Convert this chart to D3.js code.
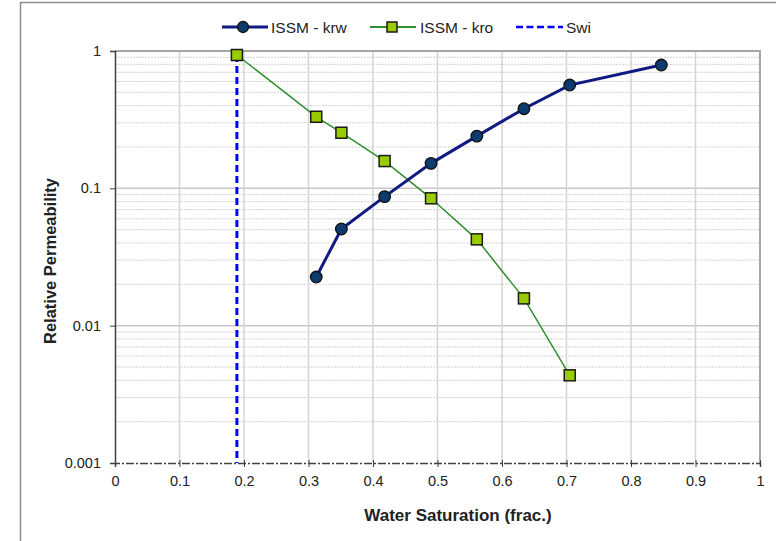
<!DOCTYPE html>
<html>
<head>
<meta charset="utf-8">
<script src="https://cdn.jsdelivr.net/npm/d3@7"></script>
<style>
  html, body { margin: 0; padding: 0; background: #fff; }
  svg { display: block; font-family: "Liberation Sans", Arial, sans-serif; }
</style>
</head>
<body>
<svg id="chart" width="776" height="541"></svg>
<script>
// Water saturation (fraction) for each measured point
const swKrw = [0.312, 0.351, 0.418, 0.490, 0.561, 0.634, 0.705, 0.847];
const krw   = [0.0226, 0.0506, 0.087, 0.152, 0.240, 0.380, 0.565, 0.790];

const swKro = [0.189, 0.312, 0.351, 0.418, 0.490, 0.561, 0.634, 0.705];
const kro   = [0.935, 0.332, 0.254, 0.158, 0.0846, 0.0425, 0.0158, 0.00435];

// Irreducible water saturation
const swi = 0.189;

const xTicks = [0, 0.1, 0.2, 0.3, 0.4, 0.5, 0.6, 0.7, 0.8, 0.9, 1];
const yTicks = [0.001, 0.01, 0.1, 1];
const yTickLabels = ["0.001", "0.01", "0.1", "1"];

const seriesNames = ["ISSM - krw", "ISSM - kro", "Swi"];

const svg = d3.select("#chart");
const plot = { left: 115, right: 760, top: 51, bottom: 463 };
const font = "Liberation Sans, Arial, sans-serif";

const x = d3.scaleLinear().domain([0, 1]).range([plot.left, plot.right]);
const y = d3.scaleLog().domain([0.001, 1]).range([plot.bottom, plot.top]);

// outer chart frame (extends past the right and bottom edges)
svg.append("rect")
  .attr("x", 20.5).attr("y", 2.5)
  .attr("width", 800).attr("height", 600)
  .attr("fill", "#fff")
  .attr("stroke", "#8c8c8c").attr("stroke-width", 1.5);

const g = svg.append("g");

// minor horizontal gridlines (2..9 within each decade)
const minor = [];
[0.001, 0.01, 0.1].forEach(d => { for (let k = 2; k <= 9; k++) minor.push(d * k); });
g.selectAll(".minor").data(minor).join("line")
  .attr("x1", plot.left).attr("x2", plot.right)
  .attr("y1", d => y(d)).attr("y2", d => y(d))
  .attr("stroke", "#d2d2d2").attr("stroke-width", 1)
  .attr("stroke-dasharray", "2,1");

// major horizontal gridlines
g.selectAll(".hmajor").data([0.01, 0.1]).join("line")
  .attr("x1", plot.left).attr("x2", plot.right)
  .attr("y1", d => y(d)).attr("y2", d => y(d))
  .attr("stroke", "#c8c8c8").attr("stroke-width", 1.5);

// vertical gridlines
g.selectAll(".vmajor").data(xTicks.slice(1, -1)).join("line")
  .attr("x1", d => x(d)).attr("x2", d => x(d))
  .attr("y1", plot.top).attr("y2", plot.bottom)
  .attr("stroke", "#d4d4d4").attr("stroke-width", 1.5);

// plot area border (top and right)
g.append("path")
  .attr("d", `M${plot.left},${plot.top}H${plot.right}V${plot.bottom}`)
  .attr("fill", "none").attr("stroke", "#a6a6a6").attr("stroke-width", 2);

// y axis
const yAxis = d3.axisLeft(y).tickValues(yTicks)
  .tickFormat((d, i) => yTickLabels[i]).tickSize(5).tickPadding(9);
const ya = g.append("g").attr("transform", `translate(${plot.left},0)`).call(yAxis);
ya.select(".domain").attr("stroke", "#404040").attr("stroke-width", 1.5);
ya.selectAll(".tick line").attr("stroke", "#404040");
ya.selectAll(".tick text").attr("font-size", 14.5).attr("fill", "#222")
  .attr("font-family", font);

// x axis
const xAxis = d3.axisBottom(x).tickValues(xTicks)
  .tickFormat(d3.format("")).tickSize(4).tickPadding(9);
const xa = g.append("g").attr("transform", `translate(0,${plot.bottom})`).call(xAxis);
xa.select(".domain").attr("stroke", "#404040").attr("stroke-width", 1.5)
  .attr("stroke-dasharray", "8,2,2,2");
xa.selectAll(".tick line").attr("stroke", "#404040").attr("y1", -3);
xa.selectAll(".tick text").attr("font-size", 14.5).attr("fill", "#222")
  .attr("font-family", font);

// axis titles
svg.append("text")
  .attr("x", 458).attr("y", 521)
  .attr("text-anchor", "middle").attr("font-family", font)
  .attr("font-size", 17).attr("font-weight", "bold").attr("fill", "#222")
  .text("Water Saturation (frac.)");
svg.append("text")
  .attr("transform", "translate(56,261) rotate(-90)")
  .attr("text-anchor", "middle").attr("font-family", font)
  .attr("font-size", 16.5).attr("font-weight", "bold").attr("fill", "#222")
  .text("Relative Permeability");

// Swi vertical dashed line
g.append("line")
  .attr("x1", x(swi)).attr("x2", x(swi))
  .attr("y1", y(kro[0])).attr("y2", plot.bottom)
  .attr("stroke", "#0000ff").attr("stroke-width", 3)
  .attr("stroke-dasharray", "7,4");

const line = d3.line().x(d => x(d[0])).y(d => y(d[1]));
const krwPts = swKrw.map((s, i) => [s, krw[i]]);
const kroPts = swKro.map((s, i) => [s, kro[i]]);

// kro series
g.append("path").datum(kroPts).attr("d", line)
  .attr("fill", "none").attr("stroke", "#2f8f2f").attr("stroke-width", 1.5);
g.selectAll(".kro").data(kroPts).join("rect")
  .attr("x", d => x(d[0]) - 5.5).attr("y", d => y(d[1]) - 5.5)
  .attr("width", 11).attr("height", 11)
  .attr("fill", "#99cc00").attr("stroke", "#1a1a1a").attr("stroke-width", 1.5);

// krw series
g.append("path").datum(krwPts).attr("d", line)
  .attr("fill", "none").attr("stroke", "#101a80").attr("stroke-width", 3);
g.selectAll(".krw").data(krwPts).join("circle")
  .attr("cx", d => x(d[0])).attr("cy", d => y(d[1])).attr("r", 5.8)
  .attr("fill", "#0d3b6e").attr("stroke", "#111").attr("stroke-width", 1.3);

// legend
const ly = 27;
const leg = svg.append("g").attr("font-size", 15.5).attr("font-family", font).attr("fill", "#222");
leg.append("line").attr("x1", 222).attr("x2", 268).attr("y1", ly).attr("y2", ly)
  .attr("stroke", "#101a80").attr("stroke-width", 3);
leg.append("circle").attr("cx", 243).attr("cy", ly).attr("r", 5.5)
  .attr("fill", "#0d3b6e").attr("stroke", "#111").attr("stroke-width", 1.3);
leg.append("text").attr("x", 271).attr("y", ly + 5.5).text(seriesNames[0]);

leg.append("line").attr("x1", 370).attr("x2", 416).attr("y1", ly).attr("y2", ly)
  .attr("stroke", "#2f8f2f").attr("stroke-width", 2);
leg.append("rect").attr("x", 392 - 5).attr("y", ly - 5).attr("width", 10).attr("height", 10)
  .attr("fill", "#99cc00").attr("stroke", "#1a1a1a").attr("stroke-width", 1.5);
leg.append("text").attr("x", 420).attr("y", ly + 5.5).text(seriesNames[1]);

leg.append("line").attr("x1", 516).attr("x2", 563).attr("y1", ly).attr("y2", ly)
  .attr("stroke", "#0000ff").attr("stroke-width", 2.5).attr("stroke-dasharray", "7,3.5");
leg.append("text").attr("x", 566).attr("y", ly + 5.5).text(seriesNames[2]);
</script>
</body>
</html>
